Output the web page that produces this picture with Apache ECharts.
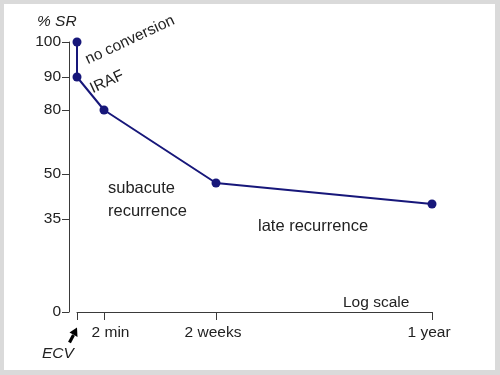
<!DOCTYPE html>
<html>
<head>
<meta charset="utf-8">
<script src="https://cdn.jsdelivr.net/npm/echarts@6/dist/echarts.min.js"></script>
<style>
  html, body { margin: 0; padding: 0; background: #dadada; }
  #chart { width: 500px; height: 375px; }
</style>
</head>
<body>
<div id="chart"></div>
<script>
// ---- data ----
const timeLabels = ['ECV', '2 min', '2 weeks', '1 year'];
const timeStops = [0, 27, 139, 355];          // schematic log-time scale stops (axis units)
const srTicks = [0, 35, 50, 80, 90, 100];     // % SR tick values
const srStops = [0, 93, 138, 202, 235, 270];  // schematic broken-scale stops (axis units)
const pointTime = ['ECV', 'ECV', '2 min', '2 weeks', '1 year'];
const pointSR = [100, 90, 80, 47, 40];

// piecewise-linear schematic scale
function mapSR(v) {
  for (let i = 1; i < srTicks.length; i++) {
    if (v <= srTicks[i]) {
      const t = (v - srTicks[i - 1]) / (srTicks[i] - srTicks[i - 1]);
      return srStops[i - 1] + t * (srStops[i] - srStops[i - 1]);
    }
  }
  return srStops[srStops.length - 1];
}
function mapTime(label) { return timeStops[timeLabels.indexOf(label)]; }

const seriesData = pointSR.map((v, i) => [mapTime(pointTime[i]), mapSR(v)]);

const FONT = "'Liberation Sans', Arial, Helvetica, sans-serif";
const NAVY = '#17177a';
const AXIS = '#3a3a3a';
const TXT = '#222222';

const chart = echarts.init(document.getElementById('chart'), null, { renderer: 'canvas' });
chart.setOption({
  animation: false,
  backgroundColor: '#dadada',
  grid: { left: 77, right: 68, top: 42, bottom: 63, containLabel: false },
  xAxis: {
    type: 'value',
    min: 0,
    max: timeStops[timeStops.length - 1],
    splitLine: { show: false },
    axisLine: { show: true, onZero: false, lineStyle: { color: AXIS, width: 1 } },
    axisTick: { show: true, customValues: timeStops, length: 8, lineStyle: { color: AXIS } },
    axisLabel: {
      customValues: timeStops.slice(1),
      margin: 13,
      color: TXT,
      fontFamily: FONT,
      fontSize: 15.5,
      formatter: function (val) {
        const i = timeStops.indexOf(val);
        if (i <= 0) return '';
        return (i === 1 ? '{a|' : '{b|') + timeLabels[i] + '}';
      },
      rich: {
        a: { padding: [0, 0, 0, 13], fontFamily: FONT, fontSize: 15.5, color: TXT },
        b: { padding: [0, 6, 0, 0], fontFamily: FONT, fontSize: 15.5, color: TXT }
      }
    }
  },
  yAxis: {
    type: 'value',
    min: 0,
    max: srStops[srStops.length - 1],
    offset: 8,
    splitLine: { show: false },
    axisLine: { show: true, onZero: false, lineStyle: { color: AXIS, width: 1 } },
    axisTick: { show: true, customValues: srStops, length: 7, lineStyle: { color: AXIS } },
    axisLabel: {
      customValues: srStops,
      margin: 8,
      color: TXT,
      fontFamily: FONT,
      fontSize: 15.5,
      formatter: function (val) {
        const i = srStops.indexOf(val);
        return i < 0 ? '' : String(srTicks[i]);
      }
    }
  },
  series: [{
    type: 'line',
    data: seriesData,
    symbol: 'circle',
    symbolSize: 9,
    showSymbol: true,
    lineStyle: { color: NAVY, width: 2 },
    itemStyle: { color: NAVY },
    z: 5
  }],
  graphic: {
    elements: [
      { type: 'rect', z: -10, silent: true, shape: { x: 4, y: 4, width: 491, height: 366 }, style: { fill: '#ffffff' } },
      { type: 'text', x: 37, y: 22, style: { text: '% SR', font: 'italic 15.5px ' + FONT, fill: TXT, verticalAlign: 'middle', align: 'left' } },
      { type: 'text', x: 130, y: 40, rotation: 25 * Math.PI / 180, style: { text: 'no conversion', font: '15.5px ' + FONT, fill: TXT, verticalAlign: 'middle', align: 'center' } },
      { type: 'text', x: 107, y: 82, rotation: 25 * Math.PI / 180, style: { text: 'IRAF', font: '15.5px ' + FONT, fill: TXT, verticalAlign: 'middle', align: 'center' } },
      { type: 'text', x: 108, y: 188, style: { text: 'subacute', font: '16.5px ' + FONT, fill: TXT, verticalAlign: 'middle', align: 'left' } },
      { type: 'text', x: 108, y: 211, style: { text: 'recurrence', font: '16.5px ' + FONT, fill: TXT, verticalAlign: 'middle', align: 'left' } },
      { type: 'text', x: 258, y: 226, style: { text: 'late recurrence', font: '16.5px ' + FONT, fill: TXT, verticalAlign: 'middle', align: 'left' } },
      { type: 'text', x: 343, y: 303, style: { text: 'Log scale', font: '15.5px ' + FONT, fill: TXT, verticalAlign: 'middle', align: 'left' } },
      { type: 'text', x: 42, y: 354, style: { text: 'ECV', font: 'italic 15.5px ' + FONT, fill: TXT, verticalAlign: 'middle', align: 'left' } },
      { type: 'line', shape: { x1: 69.5, y1: 342.5, x2: 73.5, y2: 335 }, style: { stroke: '#000', lineWidth: 3.2 } },
      { type: 'polygon', shape: { points: [[77, 327.5], [77.5, 337], [69.5, 332.5]] }, style: { fill: '#000' } }
    ]
  }
});
</script>
</body>
</html>
